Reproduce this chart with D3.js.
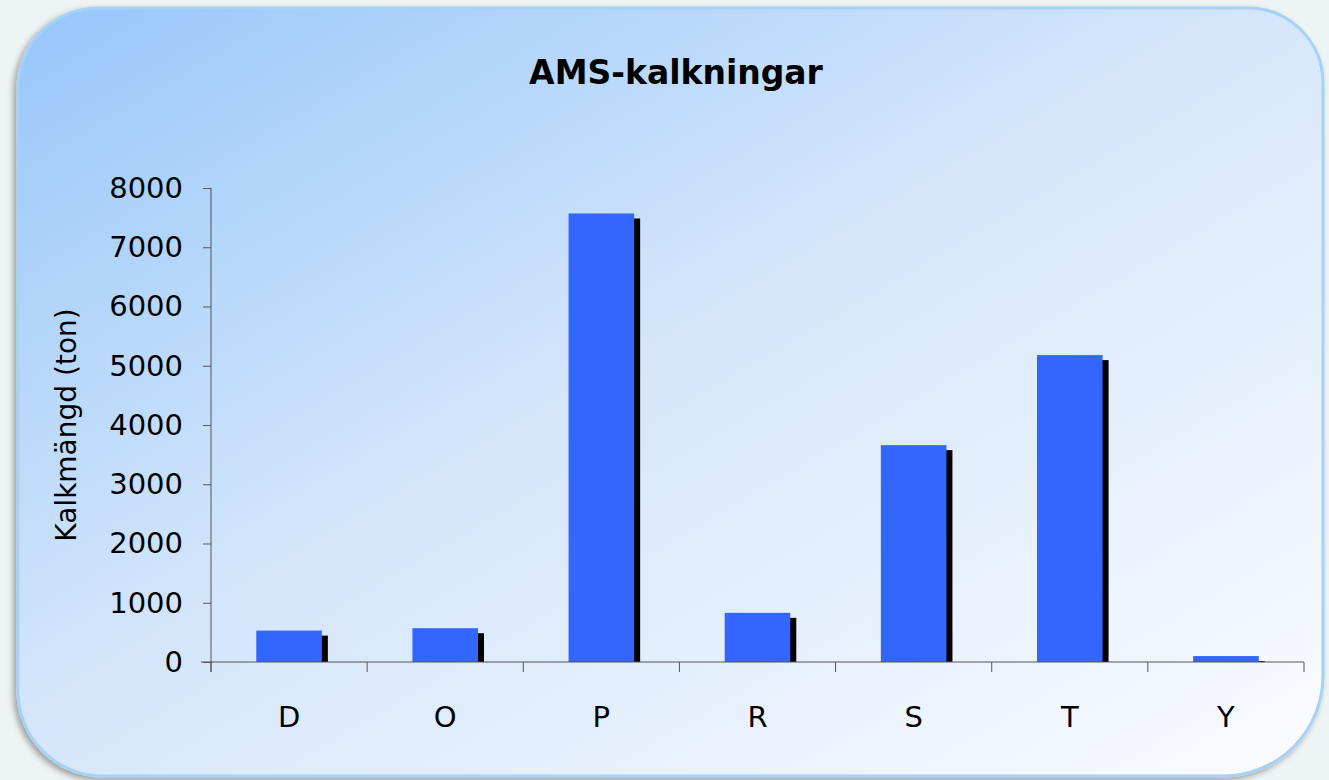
<!DOCTYPE html>
<html lang="sv">
<head>
<meta charset="utf-8">
<title>AMS-kalkningar</title>
<script src="https://d3js.org/d3.v7.min.js"></script>
<style>
  body { margin: 0; background: #eef3f3; }
  svg { display: block; }
</style>
</head>
<body>
<script>
// data
var categories = ["D", "O", "P", "R", "S", "T", "Y"];
var values = [530, 570, 7570, 830, 3660, 5180, 100];
var yTicks = [0, 1000, 2000, 3000, 4000, 5000, 6000, 7000, 8000];

var W = 1329, H = 780;
var font = "'Comic Sans MS', 'DejaVu Sans', sans-serif";

var svg = d3.select("body").append("svg")
    .attr("width", W)
    .attr("height", H);

var defs = svg.append("defs");
var grad = defs.append("linearGradient")
    .attr("id", "bg")
    .attr("x1", 0).attr("y1", 0).attr("x2", 1).attr("y2", 1);
grad.append("stop").attr("offset", 0).attr("stop-color", "#96c6fa");
grad.append("stop").attr("offset", 0.45).attr("stop-color", "#d3e5fb");
grad.append("stop").attr("offset", 1).attr("stop-color", "#fbfcff");

var shadow = defs.append("filter").attr("id", "shadow")
    .attr("x", -0.05).attr("y", -0.05).attr("width", 1.1).attr("height", 1.1);
shadow.append("feDropShadow")
    .attr("dx", -3).attr("dy", 3)
    .attr("stdDeviation", 3)
    .attr("flood-color", "#000")
    .attr("flood-opacity", 0.35);

// panel with uneven rounded corners
var px0 = 18, py0 = 8, px1 = 1323, py1 = 776;
var rTL = 80, rTR = 75, rBR = 100, rBL = 85;
var p = d3.path();
p.moveTo(px0 + rTL, py0);
p.lineTo(px1 - rTR, py0);
p.arcTo(px1, py0, px1, py0 + rTR, rTR);
p.lineTo(px1, py1 - rBR);
p.arcTo(px1, py1, px1 - rBR, py1, rBR);
p.lineTo(px0 + rBL, py1);
p.arcTo(px0, py1, px0, py1 - rBL, rBL);
p.lineTo(px0, py0 + rTL);
p.arcTo(px0, py0, px0 + rTL, py0, rTL);
p.closePath();

svg.append("path")
    .attr("d", p.toString())
    .attr("fill", "url(#bg)")
    .attr("stroke", "#a6d2f7")
    .attr("stroke-width", 3)
    .attr("filter", "url(#shadow)");

// chart area
var margin = {left: 211, right: 25, top: 188, bottom: 118};
var x = d3.scaleBand()
    .domain(categories)
    .range([margin.left, W - margin.right])
    .padding(0);

var y = d3.scaleLinear()
    .domain([0, 8000])
    .range([H - margin.bottom, margin.top]);

var barW = x.bandwidth() * 0.42;
var shX = 6, shY = 5;

var g = svg.append("g");

// shadows
g.selectAll(".shade")
    .data(values)
    .enter().append("rect")
    .attr("class", "shade")
    .attr("x", function(d, i) { return x(categories[i]) + (x.bandwidth() - barW) / 2 + shX; })
    .attr("y", function(d) { return Math.min(y(d) + shY, y(0)); })
    .attr("width", barW)
    .attr("height", function(d) { return Math.max(0, y(0) - y(d) - shY); })
    .attr("fill", "#000");

// bars
g.selectAll(".bar")
    .data(values)
    .enter().append("rect")
    .attr("class", "bar")
    .attr("x", function(d, i) { return x(categories[i]) + (x.bandwidth() - barW) / 2; })
    .attr("y", function(d) { return y(d); })
    .attr("width", barW)
    .attr("height", function(d) { return y(0) - y(d); })
    .attr("fill", "#3366ff");

// y axis
var yAxis = g.append("g")
    .attr("transform", "translate(" + margin.left + ",0)")
    .call(d3.axisLeft(y).tickValues(yTicks).tickSize(8).tickPadding(20).tickFormat(d3.format("d")));
yAxis.select(".domain").attr("stroke", "#555").attr("d", "M0," + y(8000) + "V" + (y(0) + 10));
yAxis.selectAll(".tick line").attr("stroke", "#555");
yAxis.selectAll("text")
    .attr("font-family", font)
    .attr("font-size", 29)
    .attr("fill", "#000");

// x axis
var xAxis = g.append("g")
    .attr("transform", "translate(0," + y(0) + ")")
    .call(d3.axisBottom(x).tickSize(0).tickPadding(44));
xAxis.select(".domain").attr("stroke", "#555").attr("d", "M" + (margin.left - 10) + ",0H" + (W - margin.right));
xAxis.selectAll("text")
    .attr("font-family", font)
    .attr("font-size", 29)
    .attr("fill", "#000");

// category boundary ticks
var bounds = d3.range(categories.length + 1).map(function(i) { return margin.left + i * x.step(); });
xAxis.selectAll(".bound")
    .data(bounds)
    .enter().append("line")
    .attr("class", "bound")
    .attr("x1", function(d) { return d; })
    .attr("x2", function(d) { return d; })
    .attr("y1", 0)
    .attr("y2", 10)
    .attr("stroke", "#555");

// title
svg.append("text")
    .attr("x", 676)
    .attr("y", 84)
    .attr("text-anchor", "middle")
    .attr("font-family", font)
    .attr("font-weight", "bold")
    .attr("font-size", 33)
    .text("AMS-kalkningar");

// y label
svg.append("text")
    .attr("transform", "translate(76," + ((y(0) + y(8000)) / 2) + ") rotate(-90)")
    .attr("text-anchor", "middle")
    .attr("font-family", font)
    .attr("font-size", 28)
    .text("Kalkmängd (ton)");
</script>
</body>
</html>
